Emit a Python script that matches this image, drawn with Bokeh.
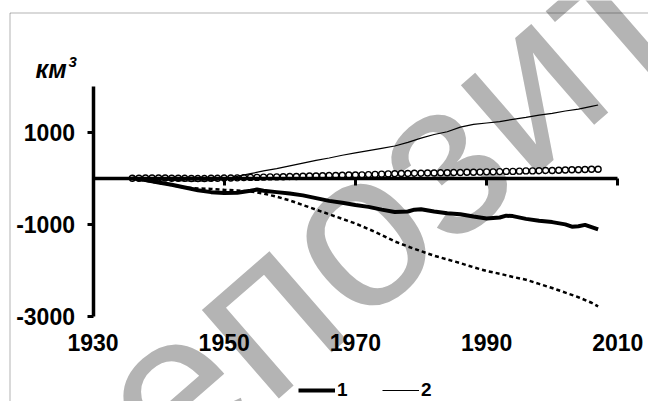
from bokeh.plotting import figure
from bokeh.models import Range1d, LinearAxis, FixedTicker, Legend, LegendItem, BoxAnnotation, Label
from bokeh.embed import file_html
from bokeh.resources import INLINE
from bokeh.core.properties import value
import math

# ---------------- data ----------------
years_1 = [1936, 1938, 1940, 1942, 1944, 1946, 1948, 1950, 1952, 1954, 1955, 1956, 1958, 1960,
           1962, 1964, 1966, 1968, 1970, 1972, 1974, 1976, 1978, 1979, 1980, 1982, 1984, 1986,
           1988, 1990, 1992, 1993, 1994, 1996, 1998, 2000, 2002, 2003, 2004, 2005, 2006, 2007]
series_1 = [0, -40, -90, -140, -200, -260, -300, -320, -315, -270, -245, -270, -300, -330,
            -370, -430, -490, -530, -580, -620, -680, -730, -720, -680, -670, -720, -760, -780,
            -830, -870, -850, -810, -820, -880, -920, -950, -1000, -1050, -1040, -1010, -1060, -1110]

years_2 = [1936, 1938, 1940, 1942, 1944, 1946, 1948, 1950, 1952, 1954, 1956, 1958, 1960, 1962,
           1964, 1966, 1968, 1970, 1972, 1974, 1976, 1978, 1980, 1982, 1984, 1986, 1988, 1990,
           1992, 1994, 1996, 1998, 2000, 2002, 2004, 2006, 2007]
series_2 = [0, -15, -30, -45, -55, -60, -50, -20, 40, 100, 160, 210, 270, 330,
            390, 440, 500, 550, 600, 650, 700, 780, 870, 950, 1010, 1110, 1170, 1200,
            1230, 1280, 1320, 1370, 1410, 1460, 1500, 1560, 1590]

years_3 = [1936, 1938, 1940, 1942, 1944, 1946, 1948, 1950, 1952, 1954, 1956, 1958, 1960, 1962,
           1964, 1966, 1968, 1970, 1972, 1974, 1976, 1978, 1980, 1982, 1984, 1986, 1988, 1990,
           1992, 1994, 1996, 1998, 2000, 2002, 2004, 2006, 2007]
series_3 = [0, -50, -100, -150, -200, -220, -230, -250, -265, -285, -330, -400, -480, -580,
            -680, -780, -880, -980, -1100, -1230, -1370, -1480, -1580, -1680, -1760, -1840, -1930, -2010,
            -2070, -2140, -2200, -2290, -2380, -2480, -2580, -2700, -2780]

years_4 = list(range(1936, 2008))
series_4 = [0, 0, 5, 5, 5, 5, 0, 0, 0, -5, -5, -5, 0, 0, 5, 5, 10, 15, 20, 20,
            25, 30, 30, 35, 40, 40, 45, 50, 50, 55, 60, 60, 65, 70, 70, 75, 80, 85, 90, 95,
            100, 105, 105, 110, 110, 115, 115, 120, 120, 125, 125, 130, 130, 135, 140, 140, 145, 150, 150, 155,
            160, 160, 165, 170, 170, 175, 180, 185, 185, 190, 195, 195]

x_ticks = [1930, 1950, 1970, 1990, 2010]
y_ticks = [1000, -1000, -3000]
y_tick_labels = ["1000", "-1000", "-3000"]
unit_label = "км"
unit_power = "3"
legend_labels = ["1", "2"]
watermark = "репозиторий"

# ---------------- layout ----------------
W, H = 648, 401
X0, X1 = 1915.899, 2014.68
Y0, Y1 = -4841.6, 3856.8

def px_to_x(px):  # canvas pixel -> data x
    return X0 + px / W * (X1 - X0)

def py_to_y(py):  # canvas pixel -> data y
    return Y1 - py / H * (Y1 - Y0)

p = figure(width=W, height=H, output_backend="svg", toolbar_location=None,
           x_range=Range1d(X0, X1), y_range=Range1d(Y0, Y1), min_border=0,
           x_axis_type=None, y_axis_type=None)
p.outline_line_color = None
p.background_fill_color = "white"
p.border_fill_color = "white"

FONT = "Liberation Sans"

# watermark
wm_angle = math.radians(41)
p.text(x=[px_to_x(30)], y=[py_to_y(512)], text=[watermark], angle=wm_angle,
       text_font=value(FONT), text_font_size="222px", text_color="#b4b4b4",
       text_align="left", text_baseline="alphabetic")

# frame border (top and left visible)
p.add_layout(BoxAnnotation(left=px_to_x(9.5), right=X1 + 20, top=py_to_y(12.5), bottom=Y0 - 2000,
                           fill_alpha=0, line_color="black", line_width=1))

# series
r3 = p.line(years_3, series_3, line_color="black", line_width=2.5, line_dash="4 3")
r4l = p.line(years_4, series_4, line_color="black", line_width=1)
r4 = p.scatter(years_4, series_4, marker="circle", size=6, line_color="black",
               line_width=1.4, fill_color="white")
r2 = p.line(years_2, series_2, line_color="black", line_width=1.2)
r1 = p.line(years_1, series_1, line_color="black", line_width=4)

# x axis line at zero with ticks; labels pushed down to the bottom
xax = LinearAxis(fixed_location=0, bounds=(1930, 2010), ticker=FixedTicker(ticks=x_ticks))
xax.axis_line_width = 3.5
xax.major_tick_line_width = 3
xax.major_tick_out = 7
xax.major_tick_in = 0
xax.minor_tick_out = 0
xax.minor_tick_in = 0
xax.major_label_standoff = 149
xax.major_label_text_font = FONT
xax.major_label_text_font_style = "bold"
xax.major_label_text_font_size = "23px"
xax.major_label_text_color = "black"
p.add_layout(xax, "below")

# y axis
yax = LinearAxis(fixed_location=1930, bounds=(-3000, 2000), ticker=FixedTicker(ticks=y_ticks))
yax.axis_line_width = 3.5
yax.major_tick_line_width = 3
yax.major_tick_out = 6
yax.major_tick_in = 0
yax.minor_tick_out = 0
yax.minor_tick_in = 0
yax.major_label_standoff = 12
yax.major_label_overrides = {t: l for t, l in zip(y_ticks, y_tick_labels)}
yax.major_label_text_font = FONT
yax.major_label_text_font_style = "bold"
yax.major_label_text_font_size = "23px"
yax.major_label_text_color = "black"
p.add_layout(yax, "left")

# unit label
p.add_layout(Label(x=px_to_x(35), y=py_to_y(68), text=unit_label, text_font=FONT,
                   text_font_style="bold italic", text_font_size="25px", text_color="black",
                   text_baseline="alphabetic"))
p.add_layout(Label(x=px_to_x(68), y=py_to_y(61), text=unit_power, text_font=FONT,
                   text_font_style="bold italic", text_font_size="15px", text_color="black",
                   text_baseline="alphabetic"))

# legend
legend = Legend(items=[LegendItem(label=legend_labels[0], renderers=[r1]),
                       LegendItem(label=legend_labels[1], renderers=[r2])],
                orientation="horizontal", location=(298, 0))
legend.glyph_width = 37
legend.glyph_height = 12
legend.label_height = 12
legend.label_width = 20
legend.label_standoff = 2
legend.spacing = 25
legend.padding = 0
legend.margin = 0
legend.border_line_color = None
legend.background_fill_alpha = 0
legend.label_text_font = FONT
legend.label_text_font_style = "bold"
legend.label_text_font_size = "19px"
legend.label_text_color = "black"
p.add_layout(legend, "center")

open("out.html", "w").write(file_html(p, INLINE))
